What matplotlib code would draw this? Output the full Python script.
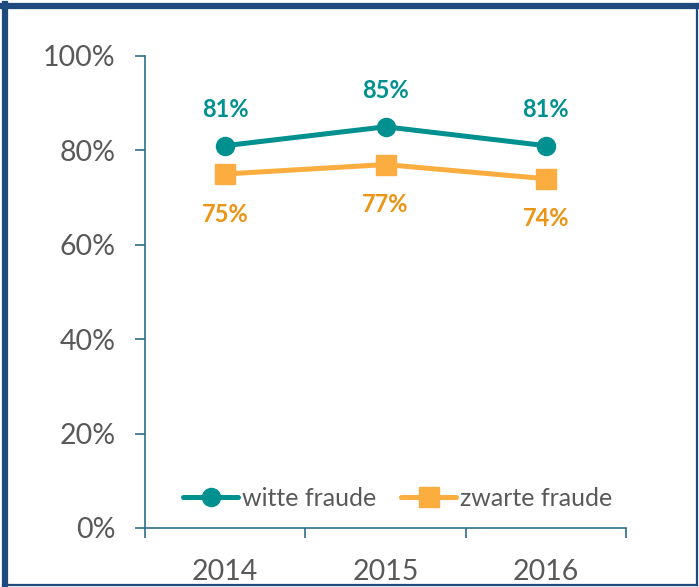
import matplotlib
matplotlib.use("Agg")
import matplotlib.pyplot as plt
from matplotlib.lines import Line2D

years = ["2014", "2015", "2016"]
witte = [81, 85, 81]
zwarte = [75, 77, 74]
y_ticks = [0, 20, 40, 60, 80, 100]
y_ticklabels = ["0%", "20%", "40%", "60%", "80%", "100%"]

teal = "#00908F"
orange_line = "#FBAD3F"
orange_text = "#EC9414"
axis_col = "#2F6D8C"
grey = "#595959"
navy = "#1F4A7D"

plt.rcParams["font.family"] = ["Lato", "DejaVu Sans"]

W, H = 699, 587
fig = plt.figure(figsize=(W / 100, H / 100), dpi=100)
ax = fig.add_axes([145 / W, (H - 528) / H, (626 - 145) / W, (528 - 56) / H])

x = list(range(len(years)))
ax.plot(x, witte, color=teal, lw=3.6, marker="o", ms=13, solid_capstyle="round",
        label="witte fraude", zorder=3)
ax.plot(x, zwarte, color=orange_line, lw=3.6, marker="s", ms=15, solid_capstyle="round",
        label="zwarte fraude", zorder=3)

for xi, v in zip(x, witte):
    ax.annotate(f"{v}%", (xi, v), xytext=(0, 26), textcoords="offset points",
                ha="center", va="center", color=teal, fontsize=17, fontweight="bold")
for xi, v in zip(x, zwarte):
    ax.annotate(f"{v}%", (xi, v), xytext=(0, -29), textcoords="offset points",
                ha="center", va="center", color=orange_text, fontsize=17, fontweight="bold")

ax.set_ylim(0, 100)
ax.set_xlim(-0.5, len(years) - 0.5)
ax.set_yticks(y_ticks)
ax.set_yticklabels(y_ticklabels)
ax.set_xticks(x)
ax.set_xticklabels(years)
ax.set_xticks([i - 0.5 for i in range(len(years) + 1)], minor=True)

for s in ["top", "right"]:
    ax.spines[s].set_visible(False)
for s in ["left", "bottom"]:
    ax.spines[s].set_color(axis_col)
    ax.spines[s].set_linewidth(1.2)

ax.tick_params(axis="y", direction="out", length=7, width=1.2, color=axis_col,
               labelsize=20.5, labelcolor=grey, pad=14)
ax.tick_params(axis="x", which="major", length=0, labelsize=20.5, labelcolor=grey, pad=22)
ax.tick_params(axis="x", which="minor", direction="out", length=7, width=1.2, color=axis_col)

leg = ax.legend(loc="lower center", bbox_to_anchor=(0.525, -0.01), ncol=2, frameon=False,
                fontsize=18, labelcolor=grey, handlelength=2.2, handletextpad=0.15,
                columnspacing=1.0)

# outer frame: heavier on the left and top
fig.add_artist(Line2D([5 / W, 5 / W], [2 / H, 1 - 4 / H], transform=fig.transFigure,
                      color=navy, lw=4.5))
fig.add_artist(Line2D([3 / W, 1 - 2 / W], [1 - 6 / H, 1 - 6 / H], transform=fig.transFigure,
                      color=navy, lw=4.5))
fig.add_artist(Line2D([1 - 2.5 / W, 1 - 2.5 / W], [2 / H, 1 - 4 / H], transform=fig.transFigure,
                      color=navy, lw=1.6))
fig.add_artist(Line2D([3 / W, 1 - 2 / W], [2.5 / H, 2.5 / H], transform=fig.transFigure,
                      color=navy, lw=1.6))

fig.savefig("out.png", dpi=100)
